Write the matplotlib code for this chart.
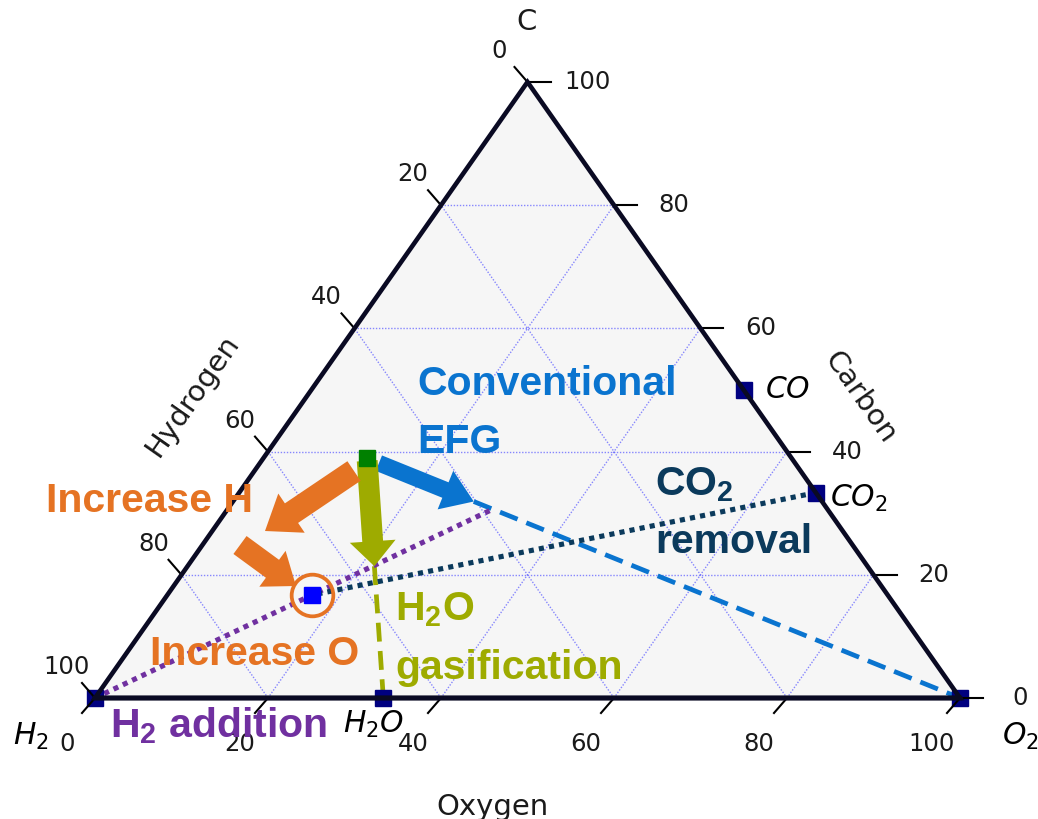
import numpy as np
import matplotlib.pyplot as plt
from matplotlib.patches import FancyArrowPatch

# --- Data (percent: C, O ; H is the rest) --- #
ticks = [0, 20, 40, 60, 80, 100]
grid_levels = [20, 40, 60, 80]

species_labels = ['$H_2$', '$H_2O$', '$O_2$', '$CO$', '$CO_2$']
species_C = [0, 0, 0, 50, 100 / 3]
species_O = [0, 100 / 3, 100, 50, 200 / 3]

efg_C, efg_O = 38.9, 12.0      # conventional EFG point (green)
prod_C, prod_O = 16.7, 16.7    # product point (blue)

# --- Colours --- #
c_blue = '#0a74cf'
c_orange = '#e57323'
c_olive = '#9eab00'
c_navy = '#0b3a5c'
c_purple = '#7030a0'
c_edge = '#0a0a23'


def tern(c, o):
    """ternary (C%, O%) -> cartesian, H2 at (0,0), O2 at (1,0), C at (0.5,1)"""
    c = np.asarray(c, float) / 100
    o = np.asarray(o, float) / 100
    return o + c / 2, c


def P(x, y):
    """pixel position -> axes fraction (axes fills the figure)"""
    return x / 1038, 1 - y / 820


plt.rcParams['mathtext.fontset'] = 'dejavusans'
plt.rcParams['mathtext.bf'] = 'Liberation Sans:bold'
plt.rcParams['mathtext.rm'] = 'Liberation Sans'

fig = plt.figure(figsize=(10.38, 8.2), dpi=100)
ax = fig.add_axes([0, 0, 1, 1])
# triangle: H2 at px 95, O2 at px 960, base at px 699, apex at px 83
ax.set_xlim(-95 / 865, (1038 - 95) / 865)
ax.set_ylim((699 - 820) / 616, 699 / 616)
ax.axis('off')

# --- Triangle background + edges --- #
ax.fill([0, 1, 0.5], [0, 0, 1], color='#f6f6f6', zorder=0)
ax.plot([0, 1, 0.5, 0, 1], [0, 0, 1, 0, 0], color=c_edge, lw=3.3,
        solid_joinstyle='miter', zorder=8)

# --- Grid --- #
for v in grid_levels:
    for c0, o0, c1, o1 in [(v, 0, v, 100 - v),          # constant C
                           (0, v, 100 - v, v),          # constant O
                           (0, 100 - v, 100 - v, 0)]:   # constant H
        x, y = tern([c0, c1], [o0, o1])
        ax.plot(x, y, color='#6a6aff', lw=1.0, ls=(0, (1, 1.2)), alpha=0.8, zorder=1)

# --- Ticks and tick labels --- #
px_x, px_y = 1 / 865, 1 / 616
tick_kw = dict(color='black', lw=1.5, zorder=7, clip_on=False)
lab_kw = dict(textcoords='offset pixels', ha='center', va='center', fontsize=17.5,
              color='#1a1a1a', annotation_clip=False)
for v in ticks:
    # bottom: Oxygen
    x, y = tern(0, v)
    ax.plot([x, x - 13 * px_x], [y, y - 15 * px_y], **tick_kw)
    ax.annotate(str(v), (x, y), xytext=(-28, -45), **lab_kw)
    # left: Hydrogen
    x, y = tern(100 - v, 0)
    ax.plot([x, x - 13 * px_x], [y, y + 15 * px_y], **tick_kw)
    ax.annotate(str(v), (x, y), xytext=(-28, 32), **lab_kw)
    # right: Carbon
    x, y = tern(v, 100 - v)
    ax.plot([x, x + 23 * px_x], [y, y], **tick_kw)
    ax.annotate(str(v), (x, y), xytext=(60, 1), **lab_kw)

# --- Axis labels --- #
ax.text(*P(527, 22), 'C', transform=ax.transAxes, fontsize=21, ha='center', va='center',
        color='#1a1a1a')
ax.text(*P(493, 815), 'Oxygen', transform=ax.transAxes, fontsize=21, ha='center',
        va='baseline', color='#1a1a1a')
ax.text(*P(192, 396), 'Hydrogen', transform=ax.transAxes, fontsize=21, ha='center',
        va='center', rotation=55, rotation_mode='anchor', color='#1a1a1a')
ax.text(*P(860, 397), 'Carbon', transform=ax.transAxes, fontsize=21, ha='center',
        va='center', rotation=-55, rotation_mode='anchor', color='#1a1a1a')

# --- Process lines --- #
H2 = np.array(tern(0, 0))
H2O = np.array(tern(0, 100 / 3))
O2 = np.array(tern(0, 100))
CO2 = np.array(tern(100 / 3, 200 / 3))
G = np.array(tern(efg_C, efg_O))
Pp = np.array(tern(prod_C, prod_O))

blue_tip = G + 0.18 * (O2 - G)
olive_tip = G + 0.45 * (H2O - G)

# H2 line through product point, up to the EFG -> O2 line
d1, d2 = Pp - H2, O2 - G
t, s = np.linalg.solve(np.column_stack([d1, -d2]), G - H2)
purple_end = H2 + t * d1

ax.plot([blue_tip[0], O2[0]], [blue_tip[1], O2[1]], color=c_blue, lw=3.4, ls=(0, (4, 2)), zorder=3)
ax.plot([olive_tip[0], H2O[0]], [olive_tip[1], H2O[1]], color=c_olive, lw=3.4,
        ls=(0, (4, 2)), zorder=3)
ax.plot([H2[0], purple_end[0]], [H2[1], purple_end[1]], color=c_purple, lw=3.7,
        ls=(0, (1, 1.0)), zorder=4)
ax.plot([CO2[0], Pp[0]], [CO2[1], Pp[1]], color=c_navy, lw=3.7, ls=(0, (1, 1.0)), zorder=4)

# --- Arrows --- #
def arrow(a, b, color, tw, hw, hl, transform=None):
    kw = {} if transform is None else dict(transform=transform)
    ax.add_patch(FancyArrowPatch(a, b, arrowstyle=f'simple,tail_width={tw},head_width={hw},'
                                 f'head_length={hl}', mutation_scale=1, color=color,
                                 shrinkA=0, shrinkB=0, lw=0, zorder=5, **kw))


arrow(G + 0.02 * (O2 - G), blue_tip, c_blue, 12, 30, 22)
arrow(G + 0.01 * (H2O - G), olive_tip, c_olive, 15, 33, 18)
arrow(P(354, 472), P(265, 532), c_orange, 17, 34, 23, ax.transAxes)
arrow(P(240, 546), P(296, 587), c_orange, 16, 32, 21, ax.transAxes)

# --- Points --- #
sx, sy = tern(species_C, species_O)
ax.plot(sx, sy, 's', color='#000080', ms=12, ls='none', zorder=6, clip_on=False)
ax.plot(*G, 's', color='#008000', ms=12, zorder=6)
ax.plot(*Pp, 's', color='#0000ff', ms=12, zorder=6)
ax.plot(*Pp, 'o', ms=30, mfc='none', mec=c_orange, mew=2.7, zorder=6)

# species labels (pixel anchors, left/baseline)
label_pos = [(13, 745), (343, 733), (1002, 745), (765, 398), (830, 507)]
for lab, (lx, ly) in zip(species_labels, label_pos):
    ax.text(*P(lx, ly), lab, transform=ax.transAxes, fontsize=21.5, ha='left',
            va='baseline', color='black')

# --- Annotation texts --- #
bold_kw = dict(transform=ax.transAxes, fontsize=29.5, fontweight='bold',
               family='Liberation Sans', ha='left', va='baseline', zorder=9,
               math_fontfamily='custom')
ax.text(*P(417, 395), 'Conventional', color=c_blue, **bold_kw)
ax.text(*P(417, 453), 'EFG', color=c_blue, **bold_kw)
ax.text(*P(46, 512), 'Increase H', color=c_orange, **bold_kw)
ax.text(*P(150, 665), 'Increase O', color=c_orange, **bold_kw)
ax.text(*P(395, 620), r'$\mathbf{H_2O}$', color=c_olive, **bold_kw)
ax.text(*P(395, 679), 'gasification', color=c_olive, **bold_kw)
ax.text(*P(655, 495), r'$\mathbf{CO_2}$', color=c_navy, **bold_kw)
ax.text(*P(655, 553), 'removal', color=c_navy, **bold_kw)
ax.text(*P(110, 737), r'$\mathbf{H_2}$ addition', color=c_purple, **bold_kw)

fig.savefig('out.png', dpi=100)
